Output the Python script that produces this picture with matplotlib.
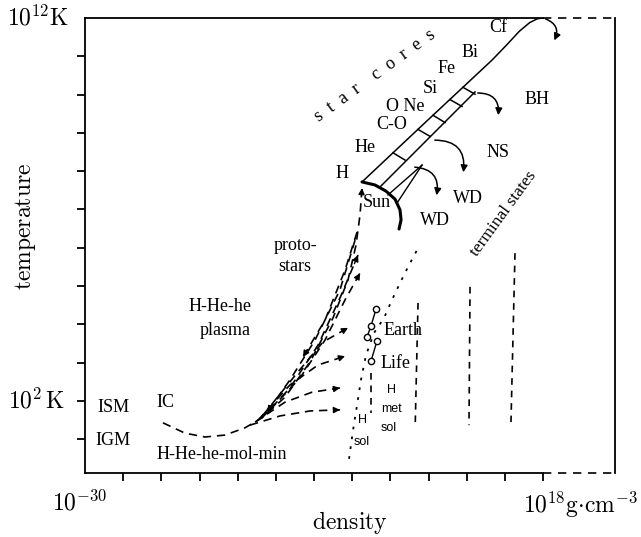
"""Schematic temperature-density diagram: star cores, protostars, terminal states."""

import matplotlib.pyplot as plt
from matplotlib.patches import FancyArrowPatch

plt.rcParams["mathtext.fontset"] = "cm"

# all coordinates are log10(density / g cm^-3) and log10(temperature / K)
X_MIN, X_AXIS_END, X_MAX = -30.0, 18.0, 25.54
Y_MIN, Y_MAX = 0.12, 12.0
X_TICKS = list(range(-26, 19, 4))
Y_TICKS = list(range(1, 12))

# star-core band
CORE_UPPER_X = [-0.97, 6.16, 12.65, 14.2, 15.5, 16.6, 17.4, 18.0]
CORE_UPPER_Y = [7.72, 9.39, 10.9, 11.3, 11.65, 11.88, 11.98, 12.0]
CORE_LOWER_X = [0.92, 10.87]
CORE_LOWER_Y = [7.59, 10.07]
RUNG_X0 = [2.28, 4.90, 6.47, 8.25, 9.61]
RUNG_Y0 = [8.48, 9.09, 9.46, 9.87, 10.19]
RUNG_X1 = [3.54, 6.16, 7.73, 9.51, 10.87]
RUNG_Y1 = [8.29, 8.91, 9.27, 9.69, 10.01]
FAN_X = [[1.75, 5.32], [2.70, 5.32]]
FAN_Y = [[7.38, 8.16], [7.17, 8.16]]
SUN_X = [-0.97, 0.39, 1.54, 2.49, 3.01, 3.12, 2.91]
SUN_Y = [7.72, 7.64, 7.48, 7.27, 6.99, 6.73, 6.49]

# collapse arrows (start, tip)
COLLAPSE_START = [(4.27, 8.11), (6.37, 8.81), (10.87, 10.04), (18.0, 12.0)]
COLLAPSE_TIP = [(6.78, 7.30), (9.61, 7.90), (13.28, 9.39), (19.05, 11.35)]

# protostar tracks (dashed), arrowhead at the last point
TRACK_IC_X = [-21.83, -19.52, -17.42, -15.33, -13.23, -11.45, -9.04, -6.42,
              -4.01, -2.44, -1.60, -1.18, -0.97]
TRACK_IC_Y = [1.43, 1.16, 1.06, 1.11, 1.30, 1.56, 2.10, 3.02, 4.17, 5.16,
              6.07, 6.86, 7.56]
TRACKS = [
    ([-11.45, -8.52, -5.58, -3.28, -1.39], [1.56, 2.34, 3.46, 4.69, 5.81]),
    ([-10.61, -7.47, -4.85, -2.75, -1.18], [1.77, 2.60, 3.59, 4.64, 5.34]),
    ([-1.70, -3.28, -5.90, -8.52, -10.93], [6.20, 4.90, 3.59, 2.55, 1.71]),
    ([-1.49, -2.75, -4.85, -7.15], [6.41, 5.42, 4.11, 3.15]),
    ([-11.35, -7.78, -5.06, -2.44], [1.63, 2.73, 3.54, 3.91]),
    ([-11.87, -8.52, -5.58, -2.75], [1.50, 2.42, 2.94, 3.17]),
    ([-12.18, -9.04, -6.21, -3.28], [1.45, 1.97, 2.23, 2.34]),
    ([-12.71, -9.56, -6.42, -3.28], [1.37, 1.61, 1.74, 1.77]),
]

# condensed matter boundaries
DOTTED_X = [-2.33, -1.91, -1.49, -1.08, -0.55, 0.29, 1.34, 2.17, 3.01, 3.85, 4.79]
DOTTED_Y = [0.49, 1.24, 1.90, 2.55, 3.20, 3.78, 4.17, 4.64, 5.08, 5.50, 5.94]
VLINES = [
    ([-0.06, -0.06], [2.73, 1.69]),
    ([4.90, 4.60], [4.56, 1.32]),
    ([10.35, 10.24], [4.98, 1.37]),
    ([15.06, 14.64], [5.86, 1.45]),
]
EARTH_X = [0.50, -0.03, -0.45]
EARTH_Y = [4.40, 3.96, 3.67]
LIFE_X = [0.60, -0.03]
LIFE_Y = [3.57, 3.04]

SERIF_LABELS = [
    ("H", -3.07, 7.95), ("He", -0.66, 8.63), ("C-O", 2.17, 9.23),
    ("O Ne", 3.54, 9.68), ("Si", 6.16, 10.17), ("Fe", 7.94, 10.69),
    ("Bi", 10.35, 11.11), ("Cf", 13.28, 11.74), ("BH", 17.37, 9.86),
    ("NS", 13.28, 8.50), ("WD", 10.14, 7.30), ("WD", 6.68, 6.70),
    ("Sun", 0.60, 7.17), ("proto-", -7.99, 6.07), ("stars", -7.99, 5.50),
    ("H-He-he", -15.85, 4.48), ("plasma", -15.33, 3.85),
    ("ISM", -27.07, 1.84), ("IGM", -27.07, 0.98), ("IC", -21.62, 1.97),
    ("H-He-he-mol-min", -15.64, 0.59), ("Earth", 3.33, 3.85),
    ("Life", 2.49, 2.99),
]
SANS_LABELS = [
    ("H", -0.87, 1.50), ("sol", -0.97, 0.93),
    ("H", 2.17, 2.29), ("met", 2.17, 1.79), ("sol", 1.86, 1.30),
]

SERIF = "Liberation Serif"
SANS = "Liberation Sans"
DASH = (0, (5, 3.5))


def _arrow_end(ax, xs, ys):
    x0, y0 = xs[-2], ys[-2]
    x1, y1 = xs[-1], ys[-1]
    start = (x1 - 0.2 * (x1 - x0), y1 - 0.2 * (y1 - y0))
    ax.annotate("", xy=(x1, y1), xytext=start,
                arrowprops=dict(arrowstyle="-|>", color="black", lw=1.0,
                                mutation_scale=9, shrinkA=0, shrinkB=0))


fig = plt.figure(figsize=(6.41, 5.37), dpi=100)
ax = fig.add_axes([85 / 641, 1 - 473 / 537, 530 / 641, 455 / 537])
ax.set_xlim(X_MIN, X_MAX)
ax.set_ylim(Y_MIN, Y_MAX)

for side in ("left", "right", "top", "bottom"):
    ax.spines[side].set_linewidth(1.3)
ax.spines["top"].set_bounds(X_MIN, X_AXIS_END)
ax.spines["bottom"].set_bounds(X_MIN, X_AXIS_END)
for yy in (Y_MIN, Y_MAX):
    ax.plot([X_AXIS_END, X_MAX], [yy, yy], color="black", lw=1.2,
            ls=(0, (5, 4)), clip_on=False)

ax.set_xticks(X_TICKS)
ax.set_yticks(Y_TICKS)
ax.set_xticklabels([])
ax.set_yticklabels([])
ax.tick_params(direction="out", length=5.5, width=1.3)

# star cores
ax.plot(CORE_UPPER_X, CORE_UPPER_Y, color="black", lw=1.1)
ax.plot(CORE_LOWER_X, CORE_LOWER_Y, color="black", lw=1.1)
for x0, y0, x1, y1 in zip(RUNG_X0, RUNG_Y0, RUNG_X1, RUNG_Y1):
    ax.plot([x0, x1], [y0, y1], color="black", lw=1.1)
for fx, fy in zip(FAN_X, FAN_Y):
    ax.plot(fx, fy, color="black", lw=1.0)
ax.plot(SUN_X, SUN_Y, color="black", lw=2.2, solid_capstyle="round")

for start, tip in zip(COLLAPSE_START, COLLAPSE_TIP):
    ax.add_patch(FancyArrowPatch(start, tip, connectionstyle="arc3,rad=-0.6",
                                 arrowstyle="-|>", mutation_scale=10,
                                 color="black", lw=1.1, clip_on=False))

# protostar tracks
ax.plot(TRACK_IC_X, TRACK_IC_Y, color="black", lw=1.2, ls=DASH)
_arrow_end(ax, TRACK_IC_X, TRACK_IC_Y)
for tx, ty in TRACKS:
    ax.plot(tx, ty, color="black", lw=1.2, ls=DASH)
    _arrow_end(ax, tx, ty)

# condensed matter and terminal states
ax.plot(DOTTED_X, DOTTED_Y, color="black", lw=1.3, ls=(0, (1.5, 4)))
for vx, vy in VLINES:
    ax.plot(vx, vy, color="black", lw=1.2, ls=(0, (4, 3.5)))
ax.plot(EARTH_X, EARTH_Y, color="black", lw=1.0, marker="o", ms=4.5,
        mfc="white", mew=1.0)
ax.plot(LIFE_X, LIFE_Y, color="black", lw=1.0, marker="o", ms=4.5,
        mfc="white", mew=1.0)

for label, x, y in SERIF_LABELS:
    ax.text(x, y, label, family=SERIF, fontsize=13, ha="center", va="center")
for label, x, y in SANS_LABELS:
    ax.text(x, y, label, family=SANS, fontsize=9, ha="center", va="center")
ax.text(0.40, 10.50, "s  t  a  r    c  o  r  e  s", family=SERIF,
        fontsize=13, rotation=36, ha="center", va="center")
ax.text(13.9, 6.9, "terminal states", family=SERIF, fontsize=12.5,
        rotation=54, ha="center", va="center")

# axis annotations
fig.text(38 / 641, 1 - 18 / 537, r"$10^{12}\mathrm{K}$", fontsize=17,
         ha="center", va="center")
fig.text(37 / 641, 1 - 401 / 537, r"$10^{2}\,\mathrm{K}$", fontsize=17,
         ha="center", va="center")
fig.text(80 / 641, 1 - 503 / 537, r"$10^{-30}$", fontsize=17,
         ha="center", va="center")
fig.text(580 / 641, 1 - 505 / 537, r"$10^{18}\mathrm{g{\cdot}cm}^{-3}$",
         fontsize=17, ha="center", va="center")
fig.text(350 / 641, 1 - 522 / 537, r"$\mathrm{density}$", fontsize=17,
         ha="center", va="center")
fig.text(25 / 641, 1 - 226 / 537, r"$\mathrm{temperature}$", fontsize=17,
         rotation=90, ha="center", va="center")

fig.savefig("out.png", dpi=100)
